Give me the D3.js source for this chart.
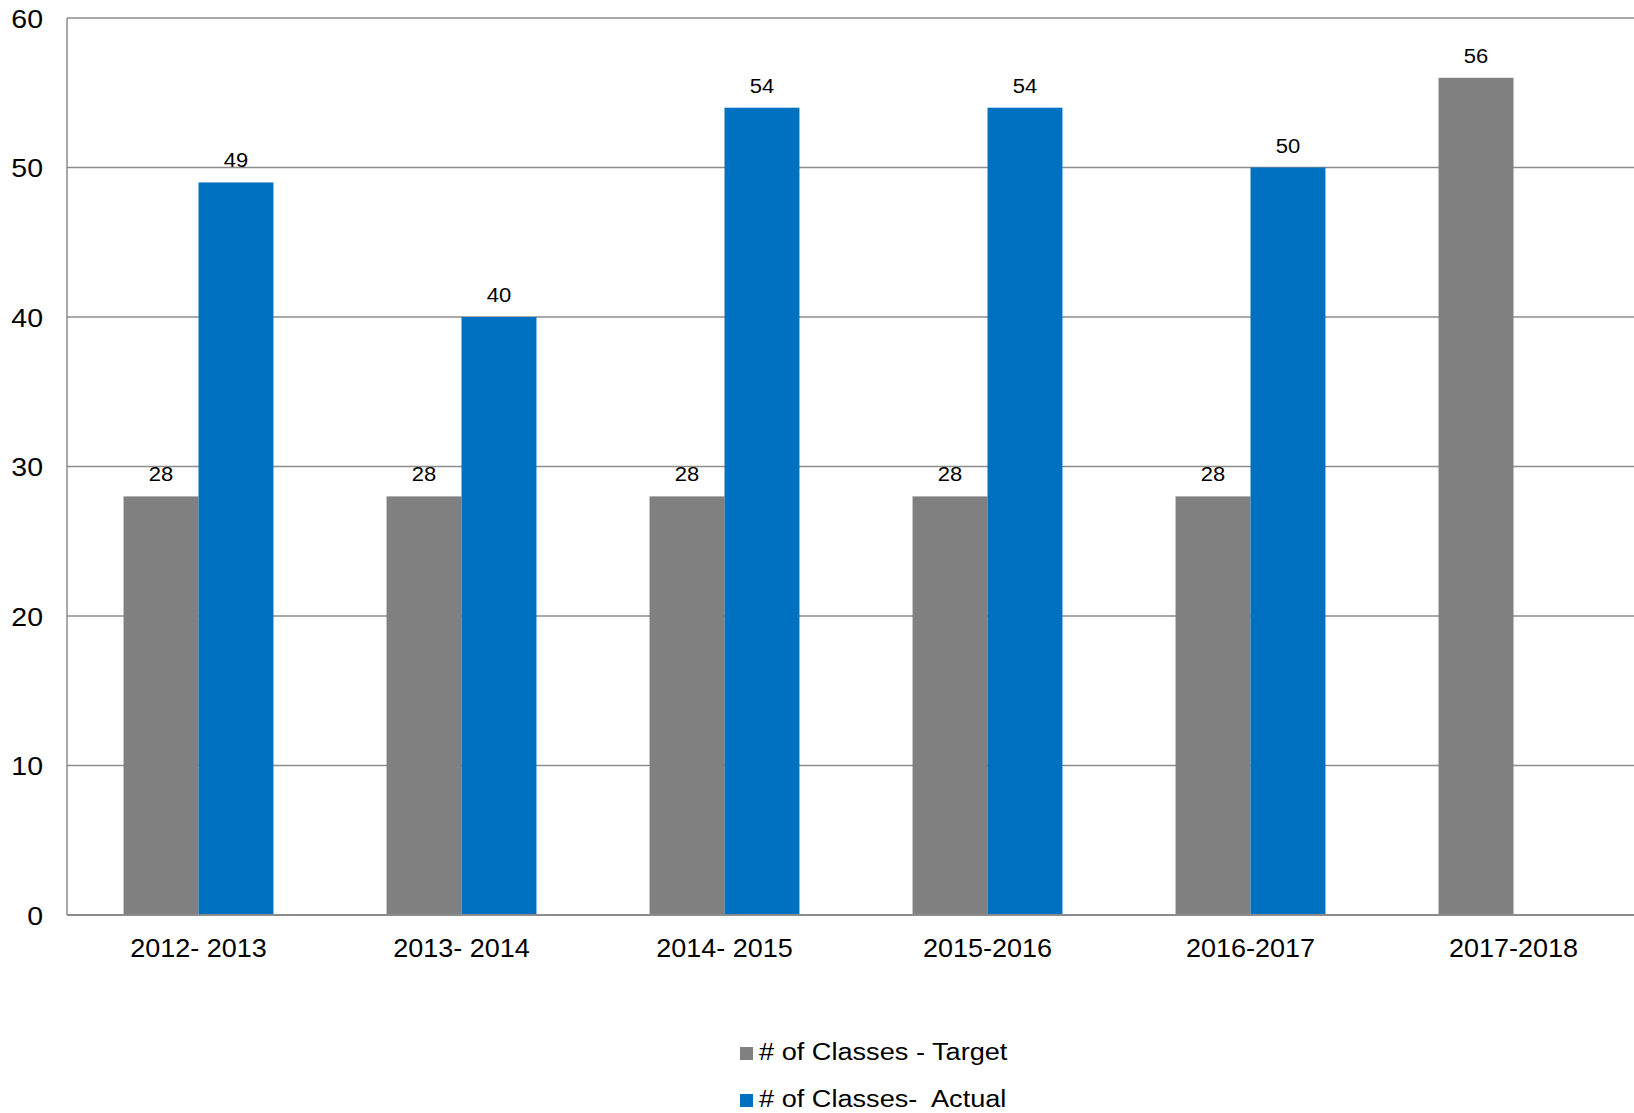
<!DOCTYPE html>
<html><head><meta charset="utf-8">
<script src="https://cdn.jsdelivr.net/npm/d3@7"></script>
<style>body{margin:0;background:#fff;overflow:hidden}svg{display:block}text{font-family:"Liberation Sans",Arial,sans-serif;fill:#000}</style>
</head><body>
<script>
const categories = ["2012- 2013","2013- 2014","2014- 2015","2015-2016","2016-2017","2017-2018"];
const targetValues = [28,28,28,28,28,56];
const actualValues = [49,40,54,54,50,null];
const seriesNames = ["# of Classes - Target","# of Classes-  Actual"];
const yTicks = [0,10,20,30,40,50,60];

(function(){
const W=1634,H=1113;
const colors=["#808080","#0070C0"];
const FF='"Liberation Sans",Arial,sans-serif';
const svg=d3.select("body").append("svg").attr("width",W).attr("height",H);
const pL=67, pR=1645, pT=18, pB=915;
const y=d3.scaleLinear().domain([0,60]).range([pB,pT]);
const x0=d3.scaleBand().domain(categories).range([pL,pR]).paddingInner(0.43).paddingOuter(0.215);
const keys=["target","actual"];
const x1=d3.scaleBand().domain(keys).range([0,x0.bandwidth()]);

function stretch(sel,sx){
  sel.each(function(){
    const L=this.getComputedTextLength();
    d3.select(this).attr("textLength",L*sx).attr("lengthAdjust","spacingAndGlyphs");
  });
}

svg.append("g").selectAll("line").data(yTicks.filter(d=>d>0)).join("line")
 .attr("x1",pL).attr("x2",W).attr("y1",d=>y(d)).attr("y2",d=>y(d))
 .attr("stroke","#8c8c8c").attr("stroke-width",1.5);

const data=categories.map((c,i)=>({c,target:targetValues[i],actual:actualValues[i]}));
const g=svg.append("g");
keys.forEach((k,ki)=>{
  const d2=data.filter(d=>d[k]!=null);
  g.selectAll(".b"+k).data(d2).join("rect").attr("class","b"+k)
   .attr("x",d=>x0(d.c)+x1(k)).attr("width",x1.bandwidth())
   .attr("y",d=>y(d[k])).attr("height",d=>pB-y(d[k]))
   .attr("fill",colors[ki]);
  const t=g.selectAll(".l"+k).data(d2).join("text").attr("class","l"+k)
   .attr("x",d=>x0(d.c)+x1(k)+x1.bandwidth()/2).attr("y",d=>y(d[k])-15)
   .attr("text-anchor","middle").attr("font-size",20).text(d=>d[k]);
  stretch(t,1.1);
});

svg.append("line").attr("x1",pL).attr("x2",pL).attr("y1",pT).attr("y2",pB)
 .attr("stroke","#8c8c8c").attr("stroke-width",1.5);
svg.append("line").attr("x1",pL).attr("x2",W).attr("y1",pB).attr("y2",pB)
 .attr("stroke","#8c8c8c").attr("stroke-width",2);

const yAxis=d3.axisLeft(y).tickValues(yTicks).tickSize(0).tickPadding(24);
const ya=svg.append("g").attr("transform",`translate(${pL},0)`).call(yAxis);
ya.select(".domain").remove();
ya.selectAll("text").attr("font-size",25).attr("font-family",FF).attr("fill","#000").attr("dy","0.37em");
stretch(ya.selectAll("text"),1.14);

const xAxis=d3.axisBottom(x0).tickSize(0).tickPadding(24);
const xa=svg.append("g").attr("transform",`translate(0,${pB})`).call(xAxis);
xa.select(".domain").remove();
xa.selectAll("text").attr("font-size",25).attr("font-family",FF).attr("fill","#000");
stretch(xa.selectAll("text"),1.08);

const lg=svg.append("g");
seriesNames.forEach((n,i)=>{
  const yy=1047+i*47;
  lg.append("rect").attr("x",740).attr("y",yy).attr("width",13).attr("height",13).attr("fill",colors[i]);
  const t=lg.append("text").attr("x",759).attr("y",yy+12.5).attr("font-size",23).text(n).style("white-space","pre");
  stretch(t,1.18);
});
})();
</script>
</body></html>
